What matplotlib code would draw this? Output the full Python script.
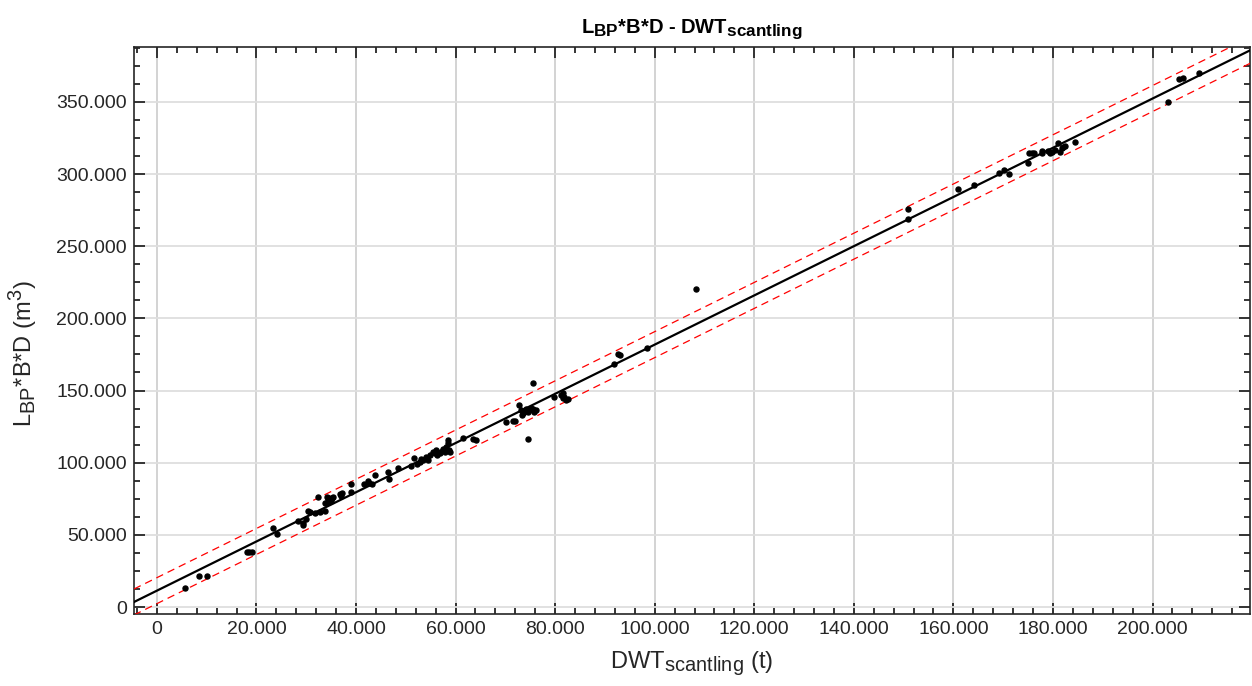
import numpy as np
import matplotlib
matplotlib.use('Agg')
import matplotlib.pyplot as plt
import matplotlib._mathtext as mathtext_core
from matplotlib.ticker import MultipleLocator, FuncFormatter

plt.rcParams['font.family'] = ['Liberation Sans', 'DejaVu Sans']
plt.rcParams['mathtext.fontset'] = 'custom'
plt.rcParams['mathtext.rm'] = 'Liberation Sans'
plt.rcParams['mathtext.it'] = 'Liberation Sans:italic'
plt.rcParams['mathtext.bf'] = 'Liberation Sans:bold'
# MATLAB draws sub/superscripts bigger than matplotlib does
mathtext_core.SHRINK_FACTOR = 0.85

# DWT scantling (t) and LBP*B*D (m3), in thousands
dwt_k = [5.7, 8.4, 10.1, 18.1, 18.6, 19.1, 23.3, 24.1, 28.3, 29.3,
         29.4, 30.0, 30.4, 30.7, 31.7, 32.4, 32.8, 33.7, 33.7, 34.1,
         34.3, 34.6, 34.9, 34.5, 35.1, 35.4, 36.8, 37.2, 37.0, 38.9,
         38.9, 41.7, 42.4, 42.7, 43.2, 43.9, 46.5, 46.7, 48.4, 51.0,
         51.6, 52.8, 53.4, 54.1, 54.4, 54.8, 55.4, 55.8, 56.1, 56.8,
         57.4, 57.8, 58.1, 58.4, 58.4, 58.6, 58.9, 52.3, 53.0, 56.3,
         61.4, 63.5, 64.1, 70.1, 71.5, 72.0, 72.8, 73.2, 73.5, 73.8,
         74.2, 74.5, 74.8, 75.2, 75.5, 75.8, 76.2, 73.3, 74.5, 75.5,
         79.8, 81.2, 81.5, 81.8, 82.2, 82.5, 81.5, 91.9, 92.7, 93.1,
         98.5, 108.3, 150.9, 150.9, 160.9, 164.2, 169.1, 170.1, 171.1, 174.9,
         175.1, 175.7, 176.1, 177.8, 177.8, 179.1, 179.5, 179.8, 180.5, 181.0,
         181.5, 181.8, 182.1, 182.5, 184.4, 203.2, 205.4, 206.1, 209.4]
vol_k = [13.4, 21.7, 21.7, 38.1, 38.1, 38.1, 54.7, 50.6, 59.6, 58.0,
         56.8, 60.8, 66.7, 66.0, 65.4, 76.4, 66.0, 66.7, 72.3, 76.0,
         74.5, 75.2, 73.8, 73.0, 75.5, 76.2, 78.3, 78.8, 77.2, 85.2,
         79.9, 85.0, 87.5, 86.1, 85.2, 91.7, 93.3, 88.7, 96.1, 97.9,
         103.3, 100.7, 101.9, 104.2, 101.9, 105.3, 107.6, 106.5, 108.8, 106.9,
         109.3, 107.6, 110.7, 113.5, 115.8, 108.8, 107.6, 99.0, 102.5, 105.5,
         117.3, 116.2, 115.7, 128.4, 129.1, 129.1, 140.0, 136.5, 134.2, 135.4,
         137.0, 135.4, 136.5, 137.7, 137.0, 135.4, 136.5, 133.1, 116.2, 155.4,
         145.7, 146.9, 144.6, 145.7, 143.4, 143.9, 148.1, 168.4, 175.3, 174.6,
         179.5, 220.4, 275.6, 268.9, 289.4, 292.4, 300.5, 302.8, 300.1, 307.9,
         314.8, 314.8, 314.8, 316.2, 314.8, 316.2, 314.8, 315.5, 316.7, 321.3,
         315.5, 317.9, 319.0, 319.5, 322.5, 349.8, 365.9, 366.4, 369.9]
band_k = 9.0  # half width of the red bounds

x = np.array(dwt_k) * 1000
y = np.array(vol_k) * 1000
p = np.polyfit(x, y, 1)

fig = plt.figure(figsize=(12.52, 6.86), dpi=100)
ax = fig.add_axes([0.107, 0.105, 0.8915, 0.8265])

xlim = (-4600, 219600)
ylim = (-4800, 388000)
xl = np.linspace(xlim[0], xlim[1], 50)
yl = np.polyval(p, xl)

ax.xaxis.grid(True, which='major', color='#d0d0d0', linewidth=1.3)
ax.yaxis.grid(True, which='major', color='#dedede', linewidth=1.3)
ax.set_axisbelow(True)
ax.plot(xl, yl, color='black', linewidth=1.6, zorder=3)
ax.plot(xl, yl + band_k * 1000, color='red', linestyle=(0, (6, 4)), linewidth=0.9, zorder=3)
ax.plot(xl, yl - band_k * 1000, color='red', linestyle=(0, (6, 4)), linewidth=0.9, zorder=3)
ax.plot(x, y, 'o', color='black', markersize=3.6, zorder=4)

ax.set_xlim(xlim)
ax.set_ylim(ylim)
ax.xaxis.set_major_locator(MultipleLocator(20000))
ax.xaxis.set_minor_locator(MultipleLocator(4000))
ax.yaxis.set_major_locator(MultipleLocator(50000))
ax.yaxis.set_minor_locator(MultipleLocator(12500))
fmt = FuncFormatter(lambda v, pos: f'{v:,.0f}'.replace(',', '.'))
ax.xaxis.set_major_formatter(fmt)
ax.yaxis.set_major_formatter(fmt)
ax.tick_params(which='both', direction='in', top=True, right=True,
               labelsize=14, colors='#262626', width=1.3)
ax.tick_params(which='major', length=8, pad=5)
ax.tick_params(which='minor', length=4.5)
for s in ax.spines.values():
    s.set_color('#262626')
    s.set_linewidth(1.2)

ax.set_xlabel(r'DWT$_{\mathrm{scantling}}$ (t)', fontsize=17, color='#262626', labelpad=8)
ax.set_ylabel(r'L$_{\mathrm{BP}}$*B*D (m$^3$)', fontsize=17, color='#262626', labelpad=6)
ax.yaxis.set_label_coords(-0.085, 0.46)
ax.set_title(r'$\mathbf{L_{BP}}$*B*D - DWT$\mathbf{_{scantling}}$', fontsize=14.5,
             fontweight='bold', pad=10)

fig.savefig('out.png', dpi=100)
